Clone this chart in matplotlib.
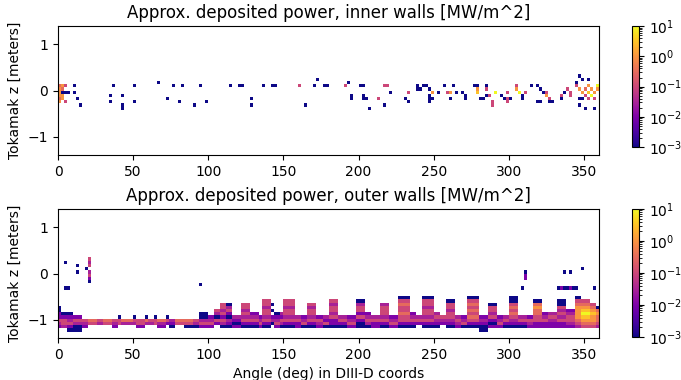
import numpy as np
import matplotlib.pyplot as plt
from matplotlib.colors import LogNorm

# bins of the deposition maps
angle_edges = np.arange(0, 362, 2)
z_edges = np.linspace(-1.4, 1.4, 41)

# inner walls: scattered cells (angle deg, z m, power MW/m^2)
inner_angle = [1, 1, 1, 1, 1, 1, 3, 3, 3, 3, 3, 5, 5, 5, 7,
               10.6, 10.6, 12.9, 15.5, 36.8, 34.6, 34.6, 43.9, 43.9, 43.9, 50.8, 50.8,
               67.4, 72.3, 76.5, 81.6, 83.6, 91, 95.8, 98, 114.4, 121.5, 123.5, 128.8, 128.8,
               136, 143, 145, 161.6, 164.3, 171.6, 173.8, 176, 178.7,
               190.5, 192.7, 201, 203, 195.4, 195.4, 203.5, 202.5, 204.5, 207, 217.6, 219.6,
               221, 213, 216.5, 231, 233, 232.6, 238, 239.3,
               241, 243, 245, 246, 246, 249.7, 249.7, 247.5, 247.5, 253, 256.4, 259.5, 261,
               260, 263, 265, 270.8, 270.8, 268.5, 277.4, 279.4, 278.6, 278.6, 280, 282,
               284, 284, 284, 285.5, 287.5, 288.5, 288.5, 290.8, 294, 296, 298.5, 299.5, 298.5,
               300.5, 305, 305, 307, 309, 309, 311, 314, 318.7, 320, 319, 321, 323, 325, 325,
               326, 327, 329, 334, 334, 337, 338, 340, 341, 344, 346, 348.4, 344, 346, 348,
               350, 350, 352, 352, 354, 354, 356, 358, 358.6, 346, 348, 350.6, 347.5, 357,
               352, 356, 353.8]
inner_z = [0.13, 0.06, -0.01, -0.08, -0.15, -0.22, 0.13, 0.06, -0.01, -0.08, -0.15, 0.13, -0.01, -0.25, -0.01,
           0.13, -0.01, -0.17, -0.33, 0.13, -0.11, -0.25, -0.11, -0.33, -0.40, 0.13, -0.25,
           0.20, -0.17, 0.13, -0.25, 0.13, -0.33, 0.13, -0.25, 0.13, 0.13, 0.13, -0.17, -0.33,
           0.13, 0.13, 0.13, 0.13, -0.33, 0.13, 0.27, 0.13, 0.13,
           0.13, 0.20, 0.13, 0.13, -0.09, -0.17, -0.09, -0.15, -0.20, -0.40, 0.13, 0.13,
           -0.01, -0.18, -0.32, -0.16, -0.24, -0.01, 0.13, 0.06,
           0.06, 0.13, 0.13, 0.02, -0.09, -0.05, -0.20, -0.20, -0.26, -0.05, 0.13, -0.05, -0.05,
           -0.20, 0.13, -0.05, -0.08, -0.15, -0.05, 0.13, 0.13, 0.00, -0.05, -0.20, -0.20,
           0.13, 0.06, -0.08, 0.03, -0.12, -0.26, -0.33, -0.05, -0.08, -0.20, -0.06, -0.20, -0.28,
           -0.15, 0.13, 0.06, -0.01, -0.08, -0.15, -0.01, 0.13, 0.13, 0.06, -0.25, -0.25, -0.01, -0.05, -0.08,
           -0.15, -0.25, -0.25, -0.08, -0.17, -0.01, 0.06, -0.01, -0.12, 0.20, 0.33, 0.24, 0.13, 0.06, -0.01,
           0.06, -0.08, 0.13, -0.01, -0.08, 0.06, -0.01, 0.06, 0.13, -0.15, -0.20, -0.38, -0.33, -0.38,
           -0.20, -0.15, 0.27]
inner_power = [0.3, 1, 1, 1, 0.3, 1, 1, 0.3, 0.001, 1, 1, 0.1, 0.001, 0.1, 0.001,
               0.001, 0.001, 0.001, 0.001, 0.001, 0.001, 0.001, 0.001, 0.001, 0.001, 0.001, 0.001,
               0.001, 0.001, 0.001, 0.001, 0.001, 0.001, 0.001, 0.001, 0.001, 0.001, 0.001, 0.001, 0.001,
               0.001, 0.001, 0.001, 0.1, 0.001, 0.001, 0.001, 0.001, 0.001,
               0.1, 0.001, 0.001, 0.001, 0.001, 0.001, 0.001, 0.001, 0.001, 0.001, 0.1, 0.1,
               0.001, 0.1, 0.001, 0.001, 0.001, 0.1, 0.001, 0.001,
               0.001, 0.001, 0.001, 0.001, 0.001, 1, 0.001, 0.001, 0.001, 0.001, 0.001, 0.1, 1,
               0.001, 0.001, 0.001, 0.001, 0.001, 0.001, 0.001, 0.001, 1, 3, 0.001, 0.001,
               0.001, 0.001, 0.001, 0.1, 0.1, 0.1, 0.1, 10, 0.001, 0.001, 0.1, 0.1, 0.1,
               0.001, 0.1, 1, 10, 0.001, 0.001, 0.1, 0.001, 0.001, 0.001, 0.001, 0.001, 0.001, 0.1, 1,
               0.1, 0.001, 0.001, 0.1, 0.001, 0.001, 0.1, 0.1, 0.1, 0.001, 0.001, 0.001, 0.1, 1, 1,
               0.3, 0.1, 1, 3, 10, 1, 1, 1, 10, 0.001, 0.001, 0.001, 0.001, 0.001,
               0.1, 0.1, 0.001]

# outer walls: scattered cells above the divertor band
outer_angle = [5.8, 5, 7, 13, 13, 18, 20.5, 20.5, 20.5, 20.5, 20.5, 20.5, 20.5, 95.6,
               311, 311, 311, 308.5, 336, 341.6, 349, 332, 334, 336, 338, 340, 342, 344, 356]
outer_z = [0.27, -0.33, -0.33, 0.17, 0.04, 0.10, 0.28, 0.21, 0.14, 0.06, -0.01, -0.08, -0.15, -0.27,
           0.05, -0.02, -0.09, -0.31, 0.04, 0.04, 0.10, -0.33, -0.33, -0.33, -0.33, -0.33, -0.33, -0.33, -0.33]
outer_power = [0.001, 0.001, 0.001, 0.001, 0.001, 0.001, 0.1, 0.03, 0.1, 0.03, 0.1, 0.01, 0.001, 0.001,
               0.001, 0.01, 0.01, 0.001, 0.001, 0.001, 0.001, 0.001, 0.01, 0.001, 0.001, 0.01, 0.001, 0.001, 0.001]

# outer walls: divertor band, rows from z=-0.525 down to z=-1.225
band_z = [-0.525, -0.595, -0.665, -0.735, -0.805, -0.875, -0.945, -1.015, -1.085, -1.155, -1.225]
band_level = {'0': 1e-3, '2': 1e-2, '3': 3e-2, '4': 1e-1, '5': 3e-1, '6': 1.0, '7': 3.0, '8': 10.0}
band_start = [0, 2, 6, 10, 16, 20, 26, 30, 36, 40, 42, 50, 52, 58, 60, 64, 66, 72, 74, 78, 84, 90,
              94, 100, 104, 108, 112, 116, 122, 128, 134, 136, 142, 144, 148, 150, 158, 162, 166,
              172, 176, 180, 186, 192, 198, 204, 208, 214, 220, 226, 234, 238, 242, 250, 254, 258,
              264, 268, 272, 280, 286, 292, 296, 300, 306, 312, 316, 322, 326, 332, 338, 344, 348,
              354, 358]
band_profile = ["...0022432.", ".....02443.", ".....023420", "......24300", ".......432.",
                ".......54..", ".......43..", ".......54..", ".......432.", "......044..",
                ".......53..", "......043..", ".......442.", "......053..", ".......43..",
                "......044..", ".......532.", "......042..", ".......320.", ".......54..",
                ".......540.", ".......430.", ".....00342.", "......2342.", "....43042..",
                "..44342430.", "..03420320.", "......3202.", "..44343420.", ".....23420.",
                "......2342.", ".443443420.", "..0.0.230..", ".....02342.", ".....32430.",
                ".443443420.", "......3422.", "......2340.", "..43443420.", "......2432.",
                "......3240.", ".434434220.", "......3420.", "......2342.", ".034424200.",
                ".....23430.", "......3422.", "..34443420.", "......2342.", "0454454420.",
                ".....23420.", "......342..", "0443443420.", ".....34320.", "......432..",
                ".044344320.", "......3432.", "......2340.", "0454545420.", "......23200",
                "..04434202.", "......2342.", "......3420.", "0045454320.", "......3420.",
                "......2432.", ".056554422.", ".....23422.", ".....34322.", ".004343422.",
                "....234432.", "0456666543.", ".456787654.", "..45676654.", "...0565543."]


def empty_grid():
    return np.full((len(z_edges) - 1, len(angle_edges) - 1), np.nan)


def put(grid, angles, zs, powers):
    i = np.digitize(angles, angle_edges) - 1
    k = np.digitize(zs, z_edges) - 1
    grid[k, i] = powers


inner = empty_grid()
put(inner, inner_angle, inner_z, inner_power)

outer = empty_grid()
put(outer, outer_angle, outer_z, outer_power)
band_end = band_start[1:] + [360]
for a0, a1, prof in zip(band_start, band_end, band_profile):
    for zc, c in zip(band_z, prof):
        if c == '.':
            continue
        cols = np.arange(a0, a1, 2) + 1
        put(outer, cols, np.full(len(cols), zc), band_level[c])

fig = plt.figure(figsize=(6.81, 3.8), dpi=100)
ax1 = fig.add_axes([0.0852, 0.592, 0.7944, 0.3395])
ax2 = fig.add_axes([0.0852, 0.1105, 0.7944, 0.3395])
cax1 = fig.add_axes([0.928, 0.613, 0.0103, 0.318])
cax2 = fig.add_axes([0.928, 0.1132, 0.0103, 0.3368])

norm = LogNorm(vmin=1e-3, vmax=1e1)
titles = ['Approx. deposited power, inner walls [MW/m^2]',
          'Approx. deposited power, outer walls [MW/m^2]']
for ax, cax, grid, title in zip([ax1, ax2], [cax1, cax2], [inner, outer], titles):
    mesh = ax.pcolormesh(angle_edges, z_edges, np.ma.masked_invalid(grid),
                         cmap='plasma', norm=norm)
    ax.set_xlim(0, 360)
    ax.set_ylim(-1.4, 1.4)
    ax.set_yticks([-1, 0, 1])
    ax.set_xticks([0, 50, 100, 150, 200, 250, 300, 350])
    ax.set_ylabel('Tokamak z [meters]')
    ax.set_title(title)
    fig.colorbar(mesh, cax=cax)

ax2.set_xlabel('Angle (deg) in DIII-D coords')

plt.savefig('out.png', dpi=100)
